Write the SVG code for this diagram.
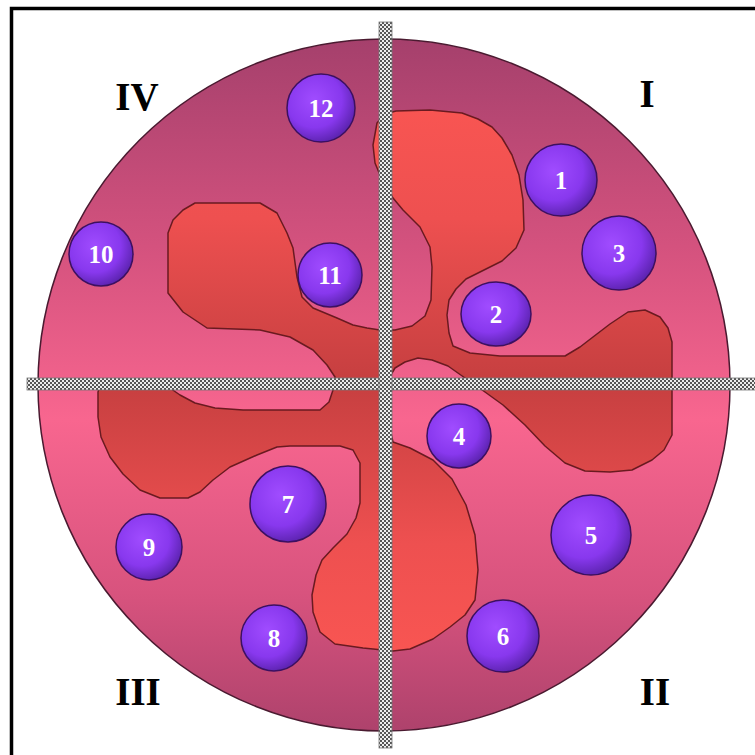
<svg xmlns="http://www.w3.org/2000/svg" width="755" height="755" viewBox="0 0 755 755">
<defs>
<linearGradient id="disc" gradientUnits="userSpaceOnUse" x1="0" y1="39" x2="0" y2="731">
<stop offset="0" stop-color="#A5406C"/>
<stop offset="0.3" stop-color="#D4527E"/>
<stop offset="0.55" stop-color="#F8668F"/>
<stop offset="0.8" stop-color="#D8537E"/>
<stop offset="1" stop-color="#AE426C"/>
</linearGradient>
<linearGradient id="blob" gradientUnits="userSpaceOnUse" x1="0" y1="110" x2="0" y2="652">
<stop offset="0" stop-color="#F85552"/>
<stop offset="0.2" stop-color="#EE5050"/>
<stop offset="0.5" stop-color="#C63F40"/>
<stop offset="0.8" stop-color="#EE5050"/>
<stop offset="1" stop-color="#F85552"/>
</linearGradient>
<radialGradient id="ball" cx="0.4" cy="0.38" r="0.68">
<stop offset="0" stop-color="#A04CFF"/>
<stop offset="0.6" stop-color="#8838EE"/>
<stop offset="1" stop-color="#5520A6"/>
</radialGradient>
<pattern id="check" width="4" height="4" patternUnits="userSpaceOnUse">
<rect width="4" height="4" fill="#EDEDED"/>
<rect width="2" height="2" fill="#555"/>
<rect x="2" y="2" width="2" height="2" fill="#555"/>
</pattern>
</defs>
<style>
.ball{fill:url(#ball);stroke:#3C1060;stroke-width:1.5}
.num{font-family:"Liberation Serif",serif;font-weight:bold;font-size:25px;fill:#fff;text-anchor:middle}
.quad{font-family:"Liberation Serif",serif;font-weight:bold;font-size:39px;fill:#000;text-anchor:middle}
.bar{fill:url(#check);stroke:#777;stroke-width:0.8}
</style>
<rect width="755" height="755" fill="#fff"/>
<rect x="11.5" y="8.5" width="800" height="800" fill="none" stroke="#000" stroke-width="3.5"/>
<g id="disc-shape">
<circle cx="384" cy="385" r="346" fill="url(#disc)" stroke="#4A1A30" stroke-width="1.5"/>
</g>
<g id="pinwheel">
<path fill="url(#blob)" stroke="#6A1A20" stroke-width="1.5" stroke-linejoin="round" d="M377,123 L385,114 L396,111 L430,110 L462,113 L478,119 L492,127 L502,138 L512,155 L519,175 L523,200 L524,230 L516,248 L502,261 L482,271 L466,279 L456,289 L449,300 L447,315 L449,333 L453,346 L470,353 L500,356 L540,356 L565,356 L580,347 L593,337 L610,324 L628,312 L645,310 L660,317 L668,328 L672,342 L672,435 L664,450 L652,460 L632,470 L610,472 L585,471 L565,463 L545,446 L525,425 L503,405 L485,392 L465,378 L448,366 L432,360 L418,358 L405,362 L395,368 L389,378 L388,400 L389,425 L393,442 L410,448 L433,460 L452,479 L466,505 L475,535 L478,570 L475,600 L465,615 L450,627 L433,639 L410,649 L393,651 L363,648 L335,644 L320,632 L313,612 L312,595 L316,575 L322,560 L333,548 L347,534 L356,518 L360,503 L360,463 L353,450 L340,446 L323,446 L290,446 L277,447 L257,455 L230,467 L213,480 L200,492 L188,498 L160,498 L140,490 L123,474 L110,457 L101,437 L98,417 L98,392 L100,386 L167,386 L180,395 L195,403 L215,408 L243,410 L320,410 L329,402 L333,390 L335,377 L327,365 L313,350 L290,337 L260,330 L207,328 L183,312 L168,293 L168,233 L173,220 L183,210 L195,203 L260,203 L277,213 L287,233 L293,248 L297,277 L302,297 L313,308 L337,318 L353,325 L367,328 L380,330 L395,330 L412,326 L425,316 L431,300 L432,267 L430,247 L420,227 L403,210 L393,198 L380,175 L375,163 L373,145 Z"/>
</g>
<g id="bars">
<rect class="bar" x="27" y="378" width="740" height="12"/>
<rect class="bar" x="379" y="22" width="13" height="726"/>
</g>
<g id="ball1"><circle class="ball" cx="561" cy="180" r="36"/><text class="num" x="561" y="189">1</text></g>
<g id="ball2"><ellipse class="ball" cx="496" cy="314" rx="35" ry="32"/><text class="num" x="496" y="323">2</text></g>
<g id="ball3"><circle class="ball" cx="619" cy="253" r="37"/><text class="num" x="619" y="262">3</text></g>
<g id="ball4"><circle class="ball" cx="459" cy="436" r="32"/><text class="num" x="459" y="445">4</text></g>
<g id="ball5"><circle class="ball" cx="591" cy="535" r="40"/><text class="num" x="591" y="544">5</text></g>
<g id="ball6"><circle class="ball" cx="503" cy="636" r="36"/><text class="num" x="503" y="645">6</text></g>
<g id="ball7"><circle class="ball" cx="288" cy="504" r="38"/><text class="num" x="288" y="513">7</text></g>
<g id="ball8"><circle class="ball" cx="274" cy="638" r="33"/><text class="num" x="274" y="647">8</text></g>
<g id="ball9"><circle class="ball" cx="149" cy="547" r="33"/><text class="num" x="149" y="556">9</text></g>
<g id="ball10"><circle class="ball" cx="101" cy="254" r="32"/><text class="num" x="101" y="263">10</text></g>
<g id="ball11"><circle class="ball" cx="330" cy="275" r="32"/><text class="num" x="330" y="284">11</text></g>
<g id="ball12"><circle class="ball" cx="321" cy="108" r="34"/><text class="num" x="321" y="117">12</text></g>
<g id="labels">
<text class="quad" x="137" y="110">IV</text>
<text class="quad" x="647" y="107">I</text>
<text class="quad" x="655" y="705">II</text>
<text class="quad" x="138" y="705">III</text>
</g>
</svg>
